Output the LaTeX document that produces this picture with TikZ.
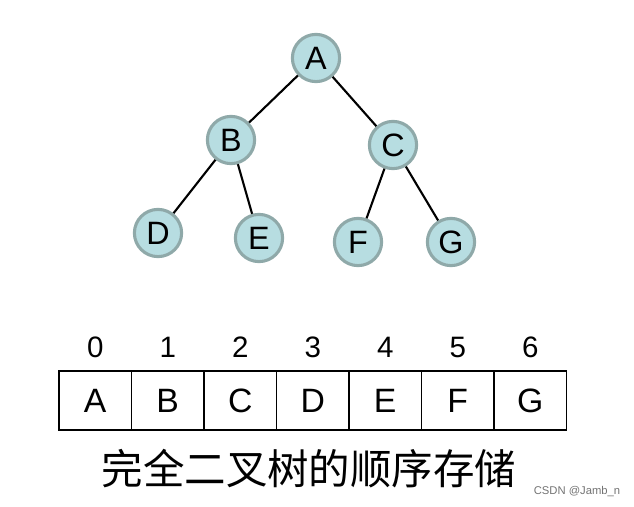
\documentclass[tikz,border=0pt]{standalone}
\usepackage{fontspec}
\setmainfont{Liberation Sans}
\newfontfamily\cjkfont{Noto Sans CJK SC}
\definecolor{nodefill}{HTML}{B7DDE1}
\definecolor{nodeline}{HTML}{8FA9A9}
\tikzset{
  treenode/.style={circle,fill=nodefill,draw=nodeline,line width=2.2pt,minimum size=1.18cm,inner sep=0pt,font=\fontsize{23}{25}\selectfont},
  treeedge/.style={line width=1.5pt},
  cell/.style={draw,line width=1.3pt,minimum width=1.8125cm,minimum height=1.475cm,inner sep=0pt,font=\fontsize{24}{26}\selectfont},
  idx/.style={font=\fontsize{21}{23}\selectfont}
}
\begin{document}
\begin{tikzpicture}[x=0.025cm,y=-0.025cm]
\useasboundingbox (0,0) rectangle (634,507);
% tree
\node[treenode] (A) at (316,58) {A};
\node[treenode] (B) at (231,140) {B};
\node[treenode] (C) at (393,145) {C};
\node[treenode] (D) at (158,233) {D};
\node[treenode] (E) at (259,238) {E};
\node[treenode] (F) at (358,242) {F};
\node[treenode] (G) at (451,242) {G};
\draw[treeedge] (A) -- (B);
\draw[treeedge] (A) -- (C);
\draw[treeedge] (B) -- (D);
\draw[treeedge] (B) -- (E);
\draw[treeedge] (C) -- (F);
\draw[treeedge] (C) -- (G);
% array
\foreach \i/\l in {0/A,1/B,2/C,3/D,4/E,5/F,6/G}{
  \node[cell] (c\i) at ({95.25+72.5*\i},400.5) {\l};
  \node[idx] (n\i) at ({95.25+72.5*\i},347) {\i};
}
\node[font=\cjkfont\fontsize{29.5}{31}\selectfont] (cap) at (309,469) {完全二叉树的顺序存储};
\node[font=\fontsize{8}{9}\selectfont,text=black!55] (mark) at (577,492) {CSDN @Jamb\_n};
\end{tikzpicture}
\end{document}
